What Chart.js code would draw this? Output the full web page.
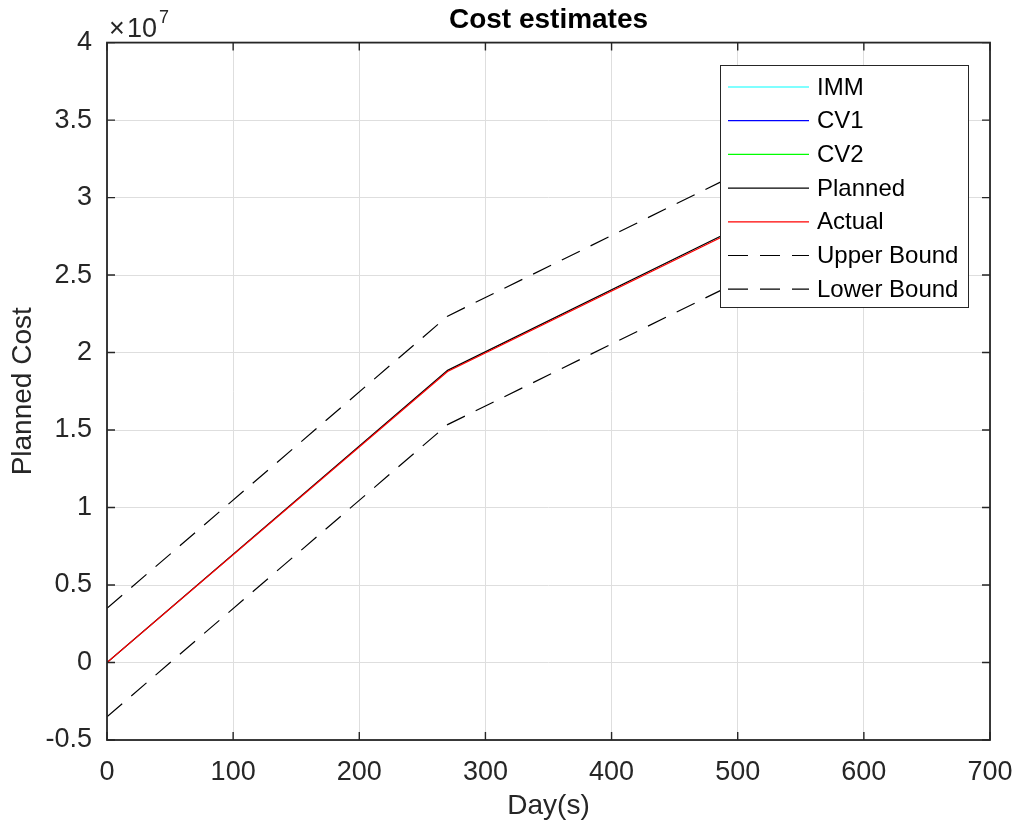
<!DOCTYPE html>
<html lang="en">
<head>
<meta charset="UTF-8">
<title>Cost estimates</title>
<script src="https://cdn.jsdelivr.net/npm/chart.js"></script>
<style>
    body { margin: 0; background: #fff; }
    #chartContainer { width: 1016px; height: 827px; }
</style>
</head>
<body>
<div id="chartContainer"><canvas id="myChart" width="1016" height="827"></canvas></div>
<script>
    // data
    const days = [0, 270, 540];
    const planned = [0, 18.85e6, 29.65e6];
    const actual = [0, 18.78e6, 29.55e6];
    const upperBound = [3.5e6, 22.35e6, 33.15e6];
    const lowerBound = [-3.5e6, 15.35e6, 26.15e6];
    const imm = [];
    const cv1 = [];
    const cv2 = [];

    const xTicks = [0, 100, 200, 300, 400, 500, 600, 700];
    const yTicks = [-0.5, 0, 0.5, 1, 1.5, 2, 2.5, 3, 3.5, 4];
    const yTickLabels = ['-0.5', '0', '0.5', '1', '1.5', '2', '2.5', '3', '3.5', '4'];
    const yScaleFactor = 1e7;

    const FONT = "'Liberation Sans', Arial, sans-serif";
    const AXIS = '#262626';

    function toPoints(xs, ys) {
        return ys.map((y, i) => ({ x: xs[i], y: y }));
    }

    const series = [
        { label: 'IMM', data: imm, color: '#00ffff', dash: [], order: 5 },
        { label: 'CV1', data: cv1, color: '#0000ff', dash: [], order: 4 },
        { label: 'CV2', data: cv2, color: '#00ff00', dash: [], order: 3 },
        { label: 'Planned', data: planned, color: '#000000', dash: [], order: 1 },
        { label: 'Actual', data: actual, color: '#ff0000', dash: [], order: 0 },
        { label: 'Upper Bound', data: upperBound, color: '#000000', dash: [20, 12], order: 6 },
        { label: 'Lower Bound', data: lowerBound, color: '#000000', dash: [20, 12], order: 7 }
    ];

    // frame on all sides, inward ticks, exponent label and the legend box
    const matlabLook = {
        id: 'matlabLook',
        afterDraw(chart) {
            const ctx = chart.ctx;
            const a = chart.chartArea;
            const xs = chart.scales.x, ys = chart.scales.y;
            ctx.save();
            ctx.strokeStyle = AXIS;
            ctx.lineWidth = 1.8;
            ctx.setLineDash([]);
            ctx.strokeRect(a.left, a.top, a.right - a.left, a.bottom - a.top);

            ctx.lineWidth = 1.4;
            ctx.beginPath();
            xTicks.forEach(v => {
                const px = xs.getPixelForValue(v);
                ctx.moveTo(px, a.bottom); ctx.lineTo(px, a.bottom - 8);
                ctx.moveTo(px, a.top); ctx.lineTo(px, a.top + 8);
            });
            yTicks.forEach(v => {
                const py = ys.getPixelForValue(v * yScaleFactor);
                ctx.moveTo(a.left, py); ctx.lineTo(a.left + 8, py);
                ctx.moveTo(a.right, py); ctx.lineTo(a.right - 8, py);
            });
            ctx.stroke();

            // x10^7
            ctx.fillStyle = AXIS;
            ctx.textBaseline = 'alphabetic';
            ctx.textAlign = 'left';
            ctx.font = '27px ' + FONT;
            ctx.fillText('\u00d7', 109, 37);
            ctx.fillText('10', 127, 37);
            ctx.font = '18px ' + FONT;
            ctx.fillText('7', 159, 23);

            // legend
            const lx = 720, ly = 65, lw = 248, lh = 242;
            ctx.fillStyle = '#ffffff';
            ctx.fillRect(lx, ly, lw, lh);
            ctx.strokeStyle = AXIS;
            ctx.lineWidth = 1;
            ctx.strokeRect(lx + 0.5, ly + 0.5, lw, lh);
            ctx.font = '24px ' + FONT;
            ctx.textBaseline = 'middle';
            series.forEach((s, i) => {
                const y = 87 + i * 33.7;
                ctx.strokeStyle = s.color;
                ctx.lineWidth = 1.2;
                ctx.setLineDash(s.dash);
                ctx.beginPath();
                ctx.moveTo(728, y); ctx.lineTo(809, y);
                ctx.stroke();
                ctx.setLineDash([]);
                ctx.fillStyle = '#000000';
                ctx.fillText(s.label, 817, y + 1);
            });
            ctx.restore();
        }
    };

    const ctx = document.getElementById('myChart').getContext('2d');
    new Chart(ctx, {
        type: 'line',
        data: {
            datasets: series.map(s => ({
                label: s.label,
                data: toPoints(days, s.data),
                borderColor: s.color,
                backgroundColor: s.color,
                borderWidth: 1.2,
                borderDash: s.dash,
                pointRadius: 0,
                tension: 0,
                fill: false,
                order: s.order
            }))
        },
        options: {
            responsive: false,
            animation: false,
            layout: { padding: { left: 0, right: 26, top: 0, bottom: 0 } },
            plugins: {
                legend: { display: false },
                tooltip: { enabled: false },
                title: {
                    display: true,
                    text: 'Cost estimates',
                    fullSize: false,
                    color: '#000000',
                    font: { family: FONT, size: 28, weight: 'bold' },
                    padding: { top: 3, bottom: 6 }
                }
            },
            scales: {
                x: {
                    type: 'linear',
                    min: 0,
                    max: 700,
                    afterBuildTicks: s => { s.ticks = xTicks.map(v => ({ value: v })); },
                    afterFit: s => { s.height = 87; s.paddingLeft = 0; s.paddingRight = 0; },
                    grid: { color: '#dedede', drawTicks: false },
                    border: { display: false },
                    ticks: {
                        color: AXIS,
                        font: { family: FONT, size: 27 },
                        padding: 16,
                        maxRotation: 0,
                        autoSkip: false
                    },
                    title: {
                        display: true,
                        text: 'Day(s)',
                        color: AXIS,
                        font: { family: FONT, size: 28 },
                        padding: { top: 0, bottom: 4 }
                    }
                },
                y: {
                    type: 'linear',
                    min: -0.5e7,
                    max: 4e7,
                    afterBuildTicks: s => { s.ticks = yTicks.map(v => ({ value: v * yScaleFactor })); },
                    afterFit: s => { s.width = 107; s.paddingTop = 0; s.paddingBottom = 0; },
                    grid: { color: '#dedede', drawTicks: false },
                    border: { display: false },
                    ticks: {
                        color: AXIS,
                        font: { family: FONT, size: 27 },
                        padding: 15,
                        autoSkip: false,
                        callback: function (value) {
                            const i = yTicks.findIndex(t => Math.abs(t * yScaleFactor - value) < 1);
                            return i >= 0 ? yTickLabels[i] : '';
                        }
                    },
                    title: {
                        display: true,
                        text: 'Planned Cost',
                        color: AXIS,
                        font: { family: FONT, size: 28 },
                        padding: { top: 6, bottom: 0 }
                    }
                }
            }
        },
        plugins: [matlabLook]
    });
</script>
</body>
</html>
